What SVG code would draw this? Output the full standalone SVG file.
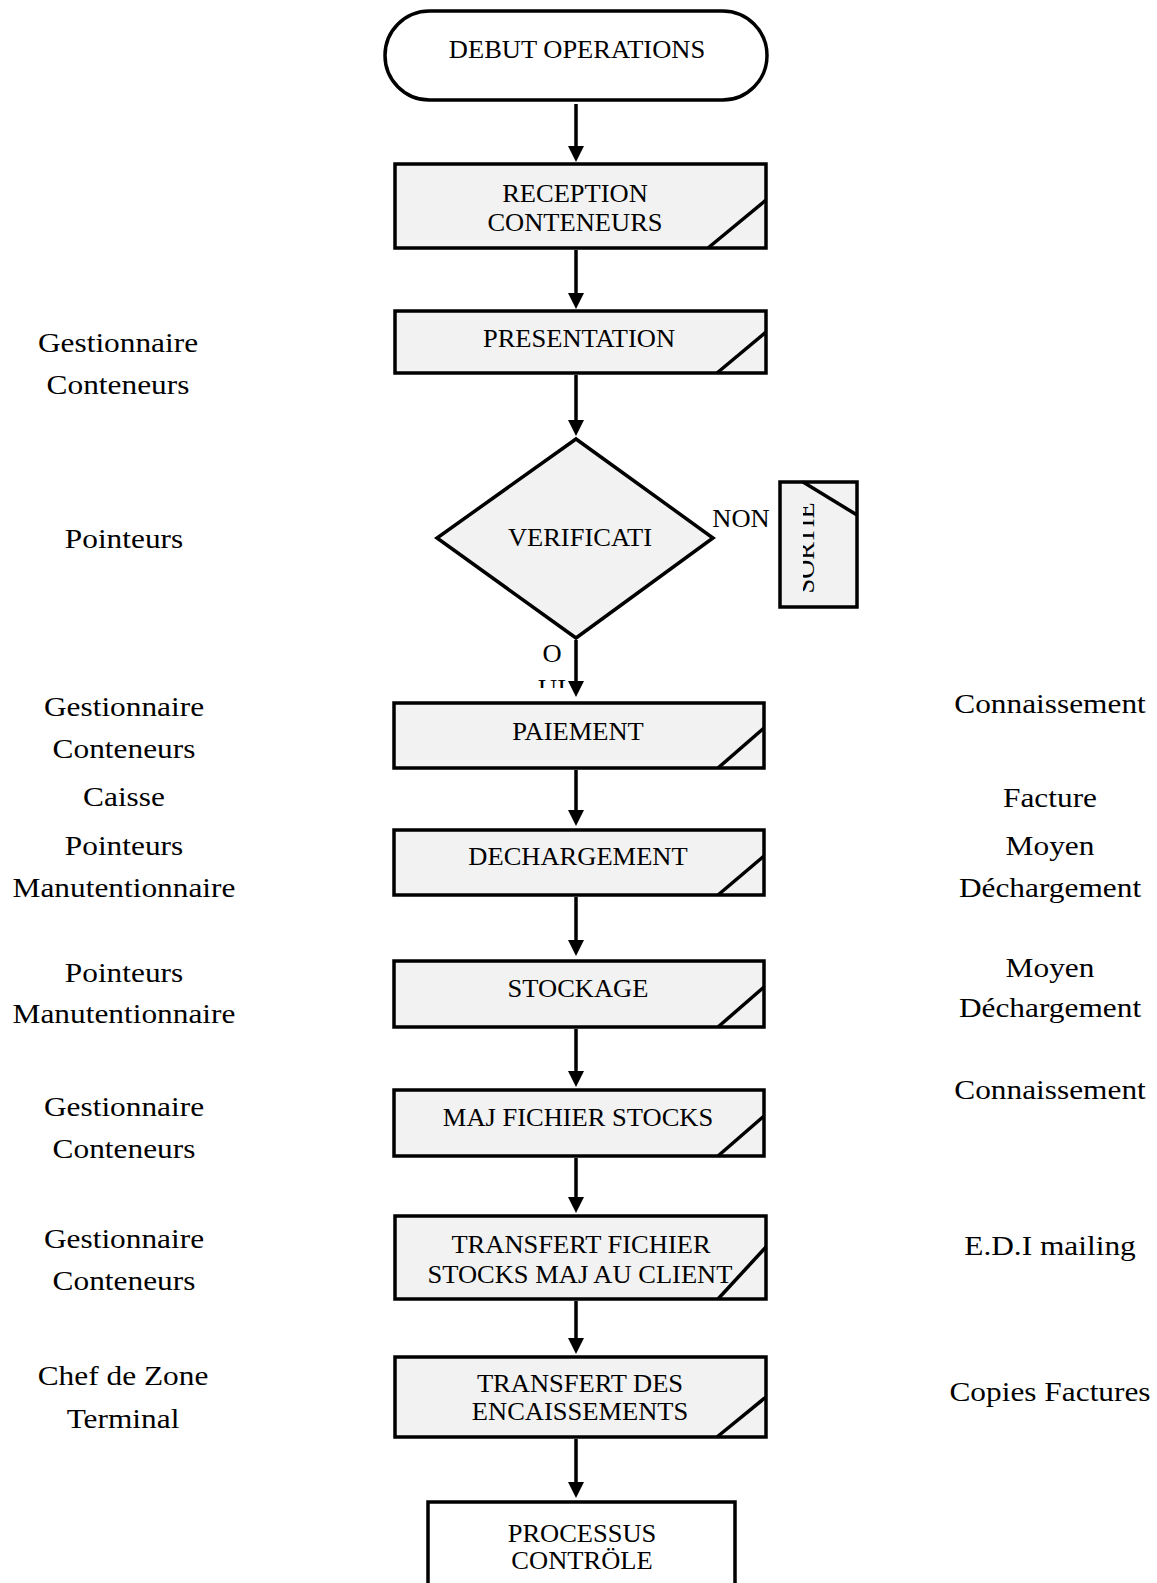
<svg xmlns="http://www.w3.org/2000/svg" width="1157" height="1583" viewBox="0 0 1157 1583">
  <style>
    .box { fill: #f2f2f2; stroke: #000; stroke-width: 3.5; }
    .plain { fill: #fff; stroke: #000; stroke-width: 3.5; }
    .cut { stroke: #000; stroke-width: 3.5; fill: none; }
    .bt { font-family: "Liberation Serif", "Times New Roman", serif; font-size: 25px; fill: #000; text-anchor: middle; }
    .lbl { font-family: "Liberation Serif", "Times New Roman", serif; font-size: 28px; fill: #000; text-anchor: middle; }
    .flow { stroke: #000; stroke-width: 3.5; fill: none; marker-end: url(#arrow); }
  </style>
  <defs>
    <marker id="arrow" viewBox="0 0 16 16" refX="2" refY="8" markerWidth="16" markerHeight="16" markerUnits="userSpaceOnUse" orient="auto">
      <path d="M0,0 L16,8 L0,16 z" fill="#000"/>
    </marker>
    <clipPath id="clip-oui"><rect x="520" y="670" width="60" height="18"/></clipPath>
    <clipPath id="clip-sortie"><rect x="803" y="490" width="18" height="110"/></clipPath>
    <clipPath id="clip-cont"><rect x="0" y="1260" width="260" height="31"/></clipPath>
  </defs>

  <rect width="1157" height="1583" fill="#fff"/>

  <!-- process flow -->
  <g id="debut">
    <rect class="plain" x="385" y="11" width="382" height="89" rx="44.5"/>
    <text class="bt" transform="translate(577 58) scale(1.06 1)">DEBUT OPERATIONS</text>
  </g>

  <g id="reception">
    <rect class="box" x="395" y="164" width="371" height="84"/>
    <path class="cut" d="M708,248 L766,200"/>
    <text class="bt" transform="translate(575 202) scale(1.06 1)"><tspan x="0" y="0">RECEPTION</tspan><tspan x="0" y="29">CONTENEURS</tspan></text>
  </g>

  <g id="presentation">
    <rect class="box" x="395" y="311" width="371" height="62"/>
    <path class="cut" d="M717,373 L766,332"/>
    <text class="bt" transform="translate(579 347) scale(1.06 1)">PRESENTATION</text>
  </g>

  <g id="verification">
    <polygon class="box" points="576,439 713,538 576,638 437,538"/>
    <text class="bt" transform="translate(580 546) scale(1.06 1)">VERIFICATI</text>
  </g>

  <g id="sortie">
    <rect class="box" x="780" y="482" width="77" height="125"/>
    <path class="cut" d="M803,482 L857,515"/>
    <g clip-path="url(#clip-sortie)">
      <text class="bt" transform="translate(814 548) rotate(-90) scale(1.06 1)">SORTIE</text>
    </g>
  </g>

  <g id="paiement">
    <rect class="box" x="394" y="703" width="370" height="65"/>
    <path class="cut" d="M718,768 L764,728"/>
    <text class="bt" transform="translate(578 740) scale(1.06 1)">PAIEMENT</text>
  </g>

  <g id="dechargement">
    <rect class="box" x="394" y="830" width="370" height="65"/>
    <path class="cut" d="M718,895 L764,856"/>
    <text class="bt" transform="translate(578 865) scale(1.06 1)">DECHARGEMENT</text>
  </g>

  <g id="stockage">
    <rect class="box" x="394" y="961" width="370" height="66"/>
    <path class="cut" d="M718,1027 L764,987"/>
    <text class="bt" transform="translate(578 997) scale(1.06 1)">STOCKAGE</text>
  </g>

  <g id="maj-fichier">
    <rect class="box" x="394" y="1090" width="370" height="66"/>
    <path class="cut" d="M718,1156 L764,1116"/>
    <text class="bt" transform="translate(578 1126) scale(1.06 1)">MAJ FICHIER STOCKS</text>
  </g>

  <g id="transfert-fichier">
    <rect class="box" x="395" y="1216" width="371" height="83"/>
    <path class="cut" d="M718,1299 L766,1247"/>
    <text class="bt" transform="translate(581 1253) scale(1.06 1)"><tspan x="0" y="0">TRANSFERT FICHIER</tspan><tspan x="-1" y="30">STOCKS MAJ AU CLIENT</tspan></text>
  </g>

  <g id="transfert-encaissements">
    <rect class="box" x="395" y="1357" width="371" height="80"/>
    <path class="cut" d="M717,1437 L766,1397"/>
    <text class="bt" transform="translate(580 1392) scale(1.06 1)"><tspan x="0" y="0">TRANSFERT DES</tspan><tspan x="0" y="28">ENCAISSEMENTS</tspan></text>
  </g>

  <g id="processus-controle">
    <rect class="plain" x="428" y="1502" width="307" height="100"/>
    <text class="bt" transform="translate(582 1542) scale(1.06 1)"><tspan x="0" y="0">PROCESSUS</tspan><tspan x="0" y="27">CONTRÖLE</tspan></text>
  </g>

  <!-- connectors -->
  <g id="connectors">
    <line class="flow" x1="576" y1="104" x2="576" y2="148"/>
    <line class="flow" x1="576" y1="250" x2="576" y2="295"/>
    <line class="flow" x1="576" y1="375" x2="576" y2="422"/>
    <line class="flow" x1="576" y1="640" x2="576" y2="683"/>
    <line class="flow" x1="576" y1="770" x2="576" y2="812"/>
    <line class="flow" x1="576" y1="897" x2="576" y2="942"/>
    <line class="flow" x1="576" y1="1029" x2="576" y2="1073"/>
    <line class="flow" x1="576" y1="1158" x2="576" y2="1199"/>
    <line class="flow" x1="576" y1="1301" x2="576" y2="1340"/>
    <line class="flow" x1="576" y1="1439" x2="576" y2="1484"/>
  </g>

  <!-- branch labels -->
  <g id="branch-labels">
    <text class="bt" transform="translate(741 527) scale(1.06 1)">NON</text>
    <text class="bt" transform="translate(552 662) scale(1.06 1)">O</text>
    <g clip-path="url(#clip-oui)">
      <text class="bt" transform="translate(552 697) scale(1.06 1)">UI</text>
    </g>
  </g>

  <!-- actors (left) -->
  <g id="actors">
    <text class="lbl" transform="translate(118 352) scale(1.12 1)"><tspan x="0" y="0">Gestionnaire</tspan><tspan x="0" y="42">Conteneurs</tspan></text>
    <text class="lbl" transform="translate(124 548) scale(1.12 1)">Pointeurs</text>
    <text class="lbl" transform="translate(124 716) scale(1.12 1)"><tspan x="0" y="0">Gestionnaire</tspan><tspan x="0" y="42">Conteneurs</tspan></text>
    <text class="lbl" transform="translate(124 806) scale(1.12 1)">Caisse</text>
    <text class="lbl" transform="translate(124 855) scale(1.12 1)"><tspan x="0" y="0">Pointeurs</tspan><tspan x="0" y="42">Manutentionnaire</tspan></text>
    <text class="lbl" transform="translate(124 982) scale(1.12 1)"><tspan x="0" y="0">Pointeurs</tspan><tspan x="0" y="41">Manutentionnaire</tspan></text>
    <text class="lbl" transform="translate(124 1116) scale(1.12 1)"><tspan x="0" y="0">Gestionnaire</tspan><tspan x="0" y="42">Conteneurs</tspan></text>
    <text class="lbl" transform="translate(124 1248) scale(1.12 1)">Gestionnaire</text>
    <g clip-path="url(#clip-cont)">
      <text class="lbl" transform="translate(124 1290) scale(1.12 1)">Conteneurs</text>
    </g>
    <text class="lbl" transform="translate(123 1385) scale(1.12 1)"><tspan x="0" y="0">Chef de Zone</tspan><tspan x="0" y="43">Terminal</tspan></text>
  </g>

  <!-- documents / means (right) -->
  <g id="documents">
    <text class="lbl" transform="translate(1050 713) scale(1.12 1)">Connaissement</text>
    <text class="lbl" transform="translate(1050 807) scale(1.12 1)">Facture</text>
    <text class="lbl" transform="translate(1050 855) scale(1.12 1)"><tspan x="0" y="0">Moyen</tspan><tspan x="0" y="42">Déchargement</tspan></text>
    <text class="lbl" transform="translate(1050 977) scale(1.12 1)"><tspan x="0" y="0">Moyen</tspan><tspan x="0" y="40">Déchargement</tspan></text>
    <text class="lbl" transform="translate(1050 1099) scale(1.12 1)">Connaissement</text>
    <text class="lbl" transform="translate(1050 1255) scale(1.12 1)">E.D.I mailing</text>
    <text class="lbl" transform="translate(1050 1401) scale(1.12 1)">Copies Factures</text>
  </g>
</svg>
